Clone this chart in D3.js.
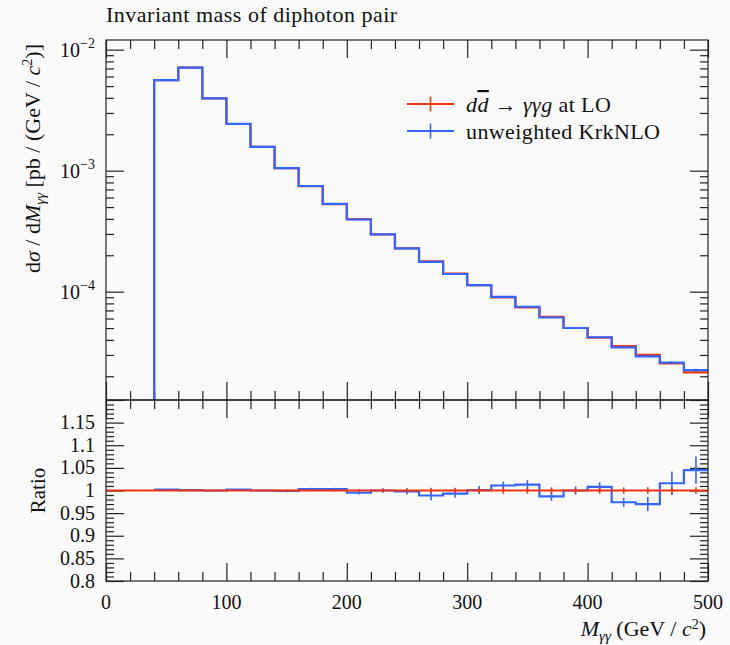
<!DOCTYPE html>
<html><head><meta charset="utf-8">
<script src="https://cdn.jsdelivr.net/npm/d3@7"></script>
<style>
html,body{margin:0;padding:0;background:#fafafa;}
svg{display:block;font-family:"Liberation Serif","DejaVu Serif",serif;}
</style></head><body>
<svg id="chart" width="730" height="645"></svg>
<script>
// ---------------- data ----------------
const binLow = [40,60,80,100,120,140,160,180,200,220,240,260,280,300,320,340,360,380,400,420,440,460,480];
const binWidth = 20;
const loValues  = [5.60e-3,7.10e-3,3.96e-3,2.43e-3,1.57e-3,1.05e-3,7.45e-4,5.30e-4,3.97e-4,2.98e-4,2.28e-4,1.78e-4,1.41e-4,1.13e-4,8.95e-5,7.42e-5,6.20e-5,5.01e-5,4.17e-5,3.55e-5,3.01e-5,2.55e-5,2.15e-5];
const krkValues = [5.61e-3,7.11e-3,3.96e-3,2.435e-3,1.57e-3,1.049e-3,7.47e-4,5.32e-4,3.95e-4,2.98e-4,2.276e-4,1.76e-4,1.40e-4,1.131e-4,9.05e-5,7.51e-5,6.12e-5,5.01e-5,4.20e-5,3.46e-5,2.92e-5,2.59e-5,2.25e-5];
const loRelErr  = [0.001,0.001,0.001,0.001,0.001,0.002,0.002,0.002,0.003,0.004,0.004,0.006,0.006,0.006,0.007,0.007,0.007,0.007,0.007,0.007,0.007,0.007,0.007];
const krkRelErr = [0.001,0.001,0.001,0.001,0.002,0.003,0.003,0.003,0.004,0.005,0.007,0.011,0.009,0.009,0.009,0.010,0.010,0.009,0.010,0.010,0.016,0.026,0.030];
const ratioValues = [1.002,1.001,1.000,1.002,1.000,0.999,1.003,1.003,0.995,1.000,0.998,0.989,0.993,1.001,1.011,1.013,0.987,1.000,1.008,0.974,0.970,1.016,1.045];
const xMajorTicks = [0,100,200,300,400,500];
const mainMajorTicks = [1e-4,1e-3,1e-2];
const ratioMajorTicks = [0.8,0.85,0.9,0.95,1.0,1.05,1.1,1.15];
const ratioTickLabels = ["0.8","0.85","0.9","0.95","1","1.05","1.1","1.15"];
const title = "Invariant mass of diphoton pair";
const legendLabels = ["LO","KrkNLO"];

const RED = "#EE3311", BLUE = "#3366FF";
// ---------------- layout ----------------
const L = 106, R = 708, T = 40, MID = 400, B = 581;
const svg = d3.select("#chart");

const x = d3.scaleLinear().domain([0,500]).range([L,R]);
const y = d3.scaleLog().domain([1.273e-5, 0.01202]).range([MID,T]);
const yr = d3.scaleLinear().domain([0.8,1.2]).range([B,MID]);

const xMinor = d3.range(0,501,20).filter(v => v % 100 !== 0);
const yMinor = y.ticks().filter(v => !mainMajorTicks.some(m => Math.abs(m - v)/m < 1e-6));
const rMinor = d3.range(80,121,1).map(v => v/100).filter(v => Math.round(v*100) % 5 !== 0);
const rMajorAll = d3.range(80,121,5).map(v => v/100);

function tickGroup(axis, tx, ty) {
  const g = svg.append("g").attr("transform", `translate(${tx},${ty})`).call(axis);
  g.select(".domain").remove();
  g.selectAll(".tick text").remove();
  g.selectAll(".tick line").attr("stroke","#222").attr("stroke-width",1.2);
  return g;
}
// ticks
[[xMajorTicks,18],[xMinor,9]].forEach(([vals,len]) => {
  tickGroup(d3.axisTop(x).tickValues(vals).tickSize(-len), 0, T);
  tickGroup(d3.axisBottom(x).tickValues(vals).tickSize(-len), 0, MID);
  tickGroup(d3.axisTop(x).tickValues(vals).tickSize(-len), 0, MID);
  tickGroup(d3.axisBottom(x).tickValues(vals).tickSize(-len), 0, B);
});
[[mainMajorTicks,18],[yMinor,8]].forEach(([vals,len]) => {
  tickGroup(d3.axisLeft(y).tickValues(vals).tickSize(-len), L, 0);
  tickGroup(d3.axisRight(y).tickValues(vals).tickSize(-len), R, 0);
});
[[rMajorAll,18],[rMinor,8]].forEach(([vals,len]) => {
  tickGroup(d3.axisLeft(yr).tickValues(vals).tickSize(-len), L, 0);
  tickGroup(d3.axisRight(yr).tickValues(vals).tickSize(-len), R, 0);
});

// clip paths
const defs = svg.append("defs");
defs.append("clipPath").attr("id","clipMain").append("rect").attr("x",L).attr("y",T).attr("width",R-L).attr("height",MID-T);
defs.append("clipPath").attr("id","clipRatio").append("rect").attr("x",L).attr("y",MID).attr("width",R-L).attr("height",B-MID);

// ---------------- main histograms ----------------
function stepPoints(vals) {
  const pts = vals.map((v,i) => [binLow[i], v]);
  pts.push([binLow[binLow.length-1] + binWidth, vals[vals.length-1]]);
  return pts;
}
const stepLine = (ys) => d3.line().x(d => x(d[0])).y(d => ys(d[1])).curve(d3.curveStepAfter);

const gMain = svg.append("g").attr("clip-path","url(#clipMain)");
function drawHist(g, vals, relErr, color) {
  const p = stepLine(y)(stepPoints(vals));
  // vertical drop at the first bin edge down to the panel bottom
  const d = `M${x(binLow[0])},${y.range()[0] + 5}L` + p.slice(1);
  g.append("path").attr("d", d).attr("fill","none").attr("stroke",color).attr("stroke-width",2.2);
  g.selectAll(null).data(vals).enter().append("line")
    .attr("x1",(v,i)=>x(binLow[i]+binWidth/2)).attr("x2",(v,i)=>x(binLow[i]+binWidth/2))
    .attr("y1",(v,i)=>y(v*(1+relErr[i]))).attr("y2",(v,i)=>y(v*(1-relErr[i])))
    .attr("stroke",color).attr("stroke-width",1.6);
}
drawHist(gMain, loValues, loRelErr, RED);
drawHist(gMain, krkValues, krkRelErr, BLUE);

// ---------------- ratio panel ----------------
const gRatio = svg.append("g").attr("clip-path","url(#clipRatio)");
gRatio.append("path").attr("d", stepLine(yr)(stepPoints(ratioValues)))
  .attr("fill","none").attr("stroke",BLUE).attr("stroke-width",2.2);
gRatio.selectAll(null).data(ratioValues).enter().append("line")
  .attr("x1",(v,i)=>x(binLow[i]+binWidth/2)).attr("x2",(v,i)=>x(binLow[i]+binWidth/2))
  .attr("y1",(v,i)=>yr(v+krkRelErr[i])).attr("y2",(v,i)=>yr(v-krkRelErr[i]))
  .attr("stroke",BLUE).attr("stroke-width",1.6);
gRatio.append("line").attr("x1",x(0)).attr("x2",x(500)).attr("y1",yr(1)).attr("y2",yr(1))
  .attr("stroke",RED).attr("stroke-width",2.2);
gRatio.selectAll(null).data(loRelErr).enter().append("line")
  .attr("x1",(v,i)=>x(binLow[i]+binWidth/2)).attr("x2",(v,i)=>x(binLow[i]+binWidth/2))
  .attr("y1",(v)=>yr(1+v)).attr("y2",(v)=>yr(1-v))
  .attr("stroke",RED).attr("stroke-width",1.6);

// frames
svg.append("rect").attr("x",L).attr("y",T).attr("width",R-L).attr("height",MID-T)
  .attr("fill","none").attr("stroke","#222").attr("stroke-width",1.2);
svg.append("rect").attr("x",L).attr("y",MID).attr("width",R-L).attr("height",B-MID)
  .attr("fill","none").attr("stroke","#222").attr("stroke-width",1.2);

// ---------------- labels ----------------
const txt = svg.append("g").attr("fill","#111");
txt.append("text").attr("x",L).attr("y",22).attr("font-size",22).attr("letter-spacing",0.5).text(title);

// main y tick labels
mainMajorTicks.forEach(v => {
  const e = Math.round(Math.log10(v));
  const t = txt.append("text").attr("x",L-11).attr("y",y(v)+7).attr("text-anchor","end").attr("font-size",20);
  t.append("tspan").text("10");
  t.append("tspan").attr("font-size",14).attr("dy",-9).text("\u2212" + Math.abs(e));
});
// ratio tick labels
ratioMajorTicks.forEach((v,i) => {
  txt.append("text").attr("x",L-11).attr("y",yr(v)+6.5).attr("text-anchor","end").attr("font-size",20).text(ratioTickLabels[i]);
});
// x tick labels
xMajorTicks.forEach(v => {
  txt.append("text").attr("x",x(v)).attr("y",609).attr("text-anchor","middle").attr("font-size",20).text(v);
});

// y axis label
const yl = txt.append("text").attr("transform",`translate(40,${T+4}) rotate(-90)`).attr("text-anchor","end").attr("font-size",22);
yl.append("tspan").text("d");
yl.append("tspan").attr("font-style","italic").text("σ");
yl.append("tspan").text(" / d");
yl.append("tspan").attr("font-style","italic").text("M");
yl.append("tspan").attr("font-style","italic").attr("font-size",15).attr("dy",5).text("γγ");
yl.append("tspan").attr("dy",-5).text(" [pb / (GeV / ");
yl.append("tspan").attr("font-style","italic").text("c");
yl.append("tspan").attr("font-size",14).attr("dy",-8).text("2");
yl.append("tspan").attr("dy",8).text(")]");

// ratio label
txt.append("text").attr("transform",`translate(45,${yr(1)}) rotate(-90)`).attr("text-anchor","middle").attr("font-size",21).text("Ratio");

// x axis label
const xl = txt.append("text").attr("x",R-2).attr("y",636).attr("text-anchor","end").attr("font-size",22);
xl.append("tspan").attr("font-style","italic").text("M");
xl.append("tspan").attr("font-style","italic").attr("font-size",15).attr("dy",5).text("γγ");
xl.append("tspan").attr("dy",-5).text(" (GeV / ");
xl.append("tspan").attr("font-style","italic").text("c");
xl.append("tspan").attr("font-size",14).attr("dy",-7).text("2");
xl.append("tspan").attr("dy",7).text(")");

// legend
const legend = svg.append("g");
const legRows = [{y:104, color:RED}, {y:131, color:BLUE}];
legRows.forEach((r,i) => {
  legend.append("line").attr("x1",407).attr("x2",454).attr("y1",r.y).attr("y2",r.y).attr("stroke",r.color).attr("stroke-width",2.2);
  legend.append("line").attr("x1",430.5).attr("x2",430.5).attr("y1",r.y-7.5).attr("y2",r.y+7.5).attr("stroke",r.color).attr("stroke-width",1.6);
});
const l1 = legend.append("text").attr("x",466).attr("y",112).attr("font-size",22).attr("letter-spacing",0.4).attr("fill","#111");
l1.append("tspan").attr("font-style","italic").text("d");
l1.append("tspan").attr("font-style","italic").attr("text-decoration","overline").text("d");
l1.append("tspan").text(" → ");
l1.append("tspan").attr("font-style","italic").text("γγg");
l1.append("tspan").text(" at " + legendLabels[0]);
legend.append("text").attr("x",466).attr("y",139).attr("font-size",22).attr("letter-spacing",0.4).attr("fill","#111")
  .text("unweighted " + legendLabels[1]);
</script>
</body></html>
